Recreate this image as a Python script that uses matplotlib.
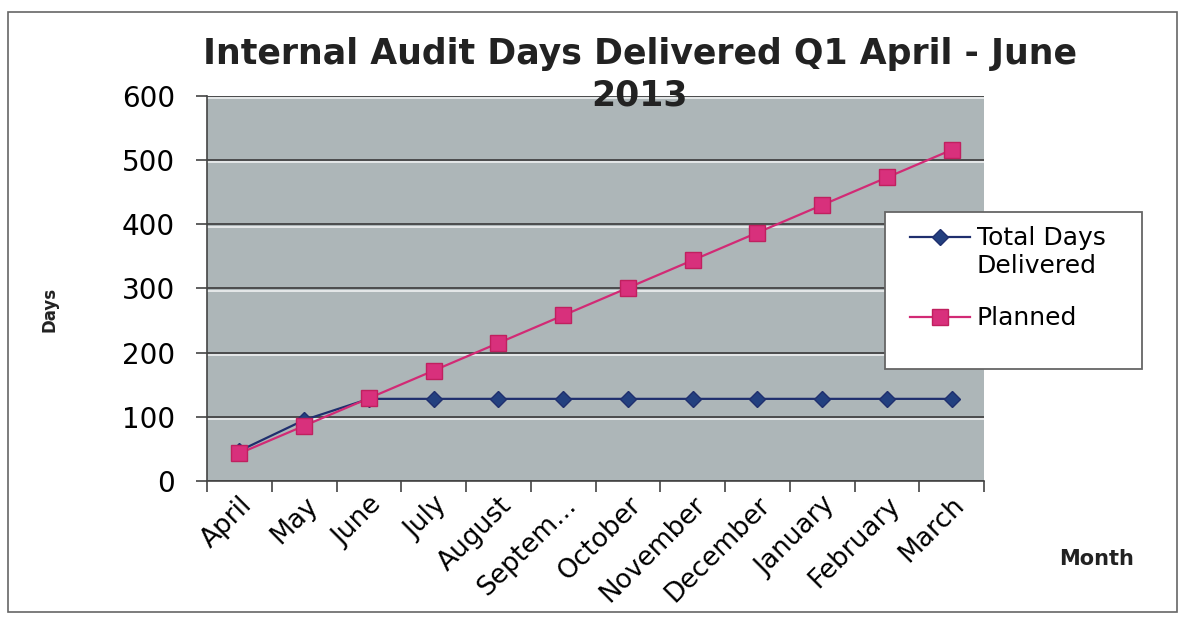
import matplotlib
matplotlib.use("Agg")
import matplotlib.pyplot as plt
import matplotlib.patheffects as pe
from matplotlib.patches import Rectangle
from matplotlib.legend_handler import HandlerLine2D
import numpy as np

months = ["April", "May", "June", "July", "August", "Septem...", "October",
          "November", "December", "January", "February", "March"]
total_delivered = [47, 95, 128, 128, 128, 128, 128, 128, 128, 128, 128, 128]
planned = [43, 86, 129, 172, 215, 258, 301, 344, 387, 430, 473, 516]
yticks = [0, 100, 200, 300, 400, 500, 600]

plt.rcParams['font.family'] = ['DejaVu Sans']


class TopLineHandler(HandlerLine2D):
    # put the legend sample level with the first line of a two-line label
    def create_artists(self, legend, orig_handle, xdescent, ydescent, width,
                       height, fontsize, trans):
        return super().create_artists(legend, orig_handle, xdescent,
                                      ydescent - 1.22 * fontsize, width, height,
                                      fontsize, trans)


fig = plt.figure(figsize=(11.85, 6.22), dpi=100)
ax = fig.add_axes([0.1747, 0.2267, 0.6557, 0.619])
ax.set_facecolor("#adb6b8")

x = np.arange(len(months))
l1, = ax.plot(x, total_delivered, color="#1f2f6e", lw=1.6, marker="D", ms=8,
              mfc="#23407f", mec="#1f2f6e", label="Total Days\nDelivered", zorder=3)
l2, = ax.plot(x, planned, color="#d22a75", lw=1.6, marker="s", ms=11,
              mfc="#d8307c", mec="#c0205f", label="Planned", zorder=4)

ax.set_xlim(-0.5, len(months) - 0.5)
ax.set_ylim(0, 600)
ax.set_yticks(yticks)
ax.tick_params(axis="y", labelsize=20, length=8, width=1.2, color="#444", pad=15)

# category boundaries get tick marks, centres get the labels
ax.set_xticks(np.arange(-0.5, len(months), 1.0))
ax.set_xticklabels([])
ax.set_xticks(x, minor=True)
ax.set_xticklabels(months, minor=True, rotation=45, ha="right",
                   rotation_mode="anchor", fontsize=19)
ax.tick_params(axis="x", which="major", length=8, width=1.2, color="#444")
ax.tick_params(axis="x", which="minor", length=0, pad=8)

ax.grid(axis="y", color="#3a3a3a", lw=1.2)
ax.set_axisbelow(True)
for gl in ax.get_ygridlines():
    gl.set_path_effects([pe.SimpleLineShadow(offset=(0, -1.6), shadow_color="white", alpha=0.8),
                         pe.Normal()])

for s in ["top", "right"]:
    ax.spines[s].set_visible(False)
ax.spines["left"].set_color("#444")
ax.spines["bottom"].set_color("#444")
ax.spines["left"].set_linewidth(1.2)
ax.spines["bottom"].set_linewidth(1.2)

fig.text(0.54, 0.913, "Internal Audit Days Delivered Q1 April - June",
         ha="center", va="center", fontsize=25, fontweight="bold", color="#222")
fig.text(0.54, 0.847, "2013", ha="center", va="center", fontsize=25,
         fontweight="bold", color="#222")
fig.text(0.0414, 0.503, "Days", rotation=90, ha="center", va="center",
         fontsize=12, fontweight="bold", color="#222")
fig.text(0.9257, 0.1013, "Month", ha="center", va="center",
         fontsize=15, fontweight="bold", color="#222")

# legend box drawn separately so its size matches the original
fig.patches.append(Rectangle((0.7468, 0.4068), 0.2169, 0.2524, transform=fig.transFigure,
                             facecolor="white", edgecolor="#666", lw=1.3, zorder=5))
leg = fig.legend([l1, l2], [l1.get_label(), l2.get_label()], loc="upper left",
                 bbox_to_anchor=(910 / 1185, 1 - 226 / 622), fontsize=18,
                 frameon=False, borderpad=0, borderaxespad=0,
                 handlelength=2.4, labelspacing=1.14, handletextpad=0.28,
                 handler_map={l1: TopLineHandler()})
leg.set_zorder(6)

fig.patches.append(Rectangle((0.007, 0.016), 0.986, 0.965, transform=fig.transFigure,
                             fill=False, edgecolor="#666", lw=1.2))

fig.savefig("out.png", dpi=100)
